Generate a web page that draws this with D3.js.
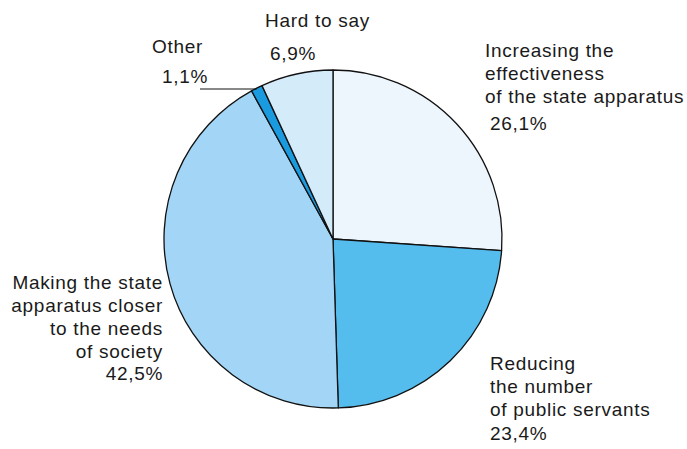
<!DOCTYPE html>
<html>
<head>
<meta charset="utf-8">
<script src="https://cdn.jsdelivr.net/npm/d3@7"></script>
<style>
  body { margin: 0; background: #fff; }
  text { font-family: "Liberation Sans", Arial, sans-serif; font-size: 19px; letter-spacing: 0.7px; fill: #1a1a1a; }
</style>
</head>
<body>
<script>
var width = 687, height = 449;

// slices clockwise from 12 o'clock
var categories = ["Increasing the effectiveness of the state apparatus",
                  "Reducing the number of public servants",
                  "Making the state apparatus closer to the needs of society",
                  "Other",
                  "Hard to say"];
var values = [26.1, 23.4, 42.5, 1.1, 6.9];
var valueLabels = ["26,1%", "23,4%", "42,5%", "1,1%", "6,9%"];
var labelLines = [
  ["Increasing the", "effectiveness", "of the state apparatus"],
  ["Reducing", "the number", "of public servants"],
  ["Making the state", "apparatus closer", "to the needs", "of society"],
  ["Other"],
  ["Hard to say"]
];

var color = d3.scaleOrdinal()
    .domain(categories)
    .range(["#eef6fd", "#55bdee", "#a2d5f6", "#1a9be0", "#d4ebfa"]);

var cx = 333, cy = 239, r = 169;

var svg = d3.select("body").append("svg")
    .attr("width", width)
    .attr("height", height);

var g = svg.append("g")
    .attr("transform", "translate(" + cx + "," + cy + ")");

var pie = d3.pie().sort(null).value(function(d) { return d; });
var arc = d3.arc().innerRadius(0).outerRadius(r);
var arcs = pie(values);

g.selectAll(".slice")
    .data(arcs)
  .enter().append("path")
    .attr("class", "slice")
    .attr("d", arc)
    .style("fill", function(d, i) { return color(categories[i]); })
    .style("stroke", "#111")
    .style("stroke-width", 1.3)
    .style("stroke-linejoin", "round");

// label blocks: first baseline, alignment, baseline of the percentage
var labelPos = [
  {x: 485, y: 57, anchor: "start", pctX: 490, pctY: 130},
  {x: 490, y: 370, anchor: "start", pctX: 490, pctY: 440},
  {x: 163, y: 289, anchor: "end", pctX: 163, pctY: 380},
  {x: 152, y: 53, anchor: "start", pctX: 162, pctY: 83},
  {x: 265, y: 27, anchor: "start", pctX: 270, pctY: 60}
];

var lineH = 23;

labelPos.forEach(function(p, i) {
  var t = svg.append("g").attr("class", "label");
  labelLines[i].forEach(function(s, k) {
    t.append("text")
        .attr("x", p.x)
        .attr("y", p.y + k * lineH)
        .style("text-anchor", p.anchor)
        .text(s);
  });
  t.append("text")
      .attr("x", p.pctX)
      .attr("y", p.pctY)
      .style("text-anchor", p.anchor)
      .text(valueLabels[i]);
});

// leader line for the small "Other" slice
var other = arcs[3];
var mid = (other.startAngle + other.endAngle) / 2;
var ex = cx + r * Math.sin(mid), ey = cy - r * Math.cos(mid);
svg.append("line")
    .attr("x1", 200).attr("y1", 89)
    .attr("x2", ex).attr("y2", 89)
    .style("stroke", "#111")
    .style("stroke-width", 1);
</script>
</body>
</html>
